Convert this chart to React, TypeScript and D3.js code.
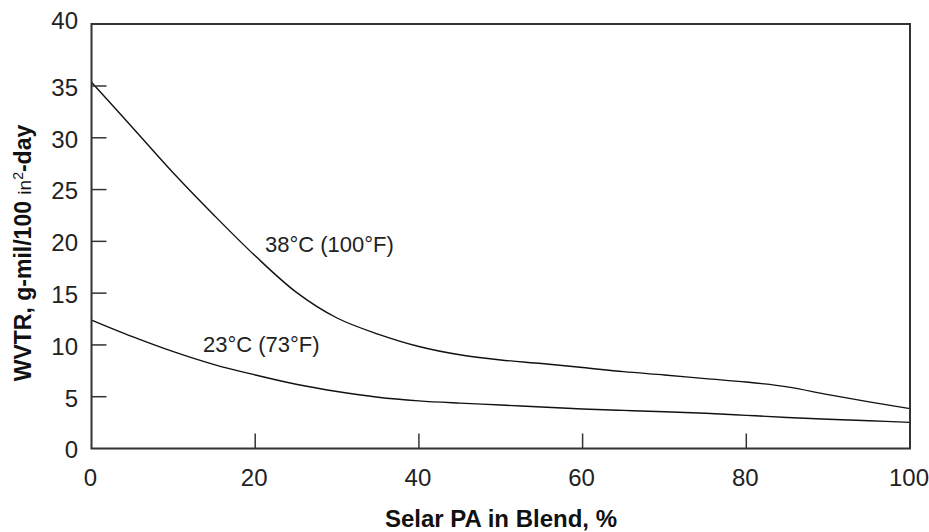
import React from "react";
import * as d3 from "d3";

const xTicks = [0, 20, 40, 60, 80, 100];
const yTicks = [0, 5, 10, 15, 20, 25, 30, 35, 40];

const blendPct = [0, 5, 10, 15, 20, 25, 30, 35, 40, 45, 50, 55, 60, 65, 70, 75, 80, 85, 90, 95, 100];
const wvtr38 = [35.3, 31.0, 26.6, 22.5, 18.6, 15.1, 12.6, 11.05, 9.85, 9.05, 8.55, 8.2, 7.82, 7.42, 7.1, 6.75, 6.42, 5.95, 5.2, 4.5, 3.85];
const wvtr23 = [12.4, 10.8, 9.35, 8.1, 7.1, 6.2, 5.5, 4.95, 4.6, 4.38, 4.2, 4.0, 3.82, 3.68, 3.55, 3.4, 3.2, 3.0, 2.82, 2.68, 2.52];

const label38 = "38°C (100°F)";
const label23 = "23°C (73°F)";
const xTitle = "Selar PA in Blend, %";

export default function App() {
  const W = 929, H = 532;
  const x = d3.scaleLinear().domain([0, 100]).range([91.5, 910]);
  const y = d3.scaleLinear().domain([0, 35, 40]).range([448.5, 86, 24]);
  const line = d3
    .line<number>()
    .x((_, i) => x(blendPct[i]))
    .y((d) => y(d))
    .curve(d3.curveCatmullRom.alpha(0.5));

  const font = "'Liberation Sans', Arial, sans-serif";
  const frameColor = "#333";

  return (
    <svg
      width={W}
      height={H}
      style={{ position: "absolute", left: 0, top: 0, background: "#fff" }}
      fontFamily={font}
    >
      <rect x={0} y={0} width={W} height={H} fill="#fff" />
      {/* curves */}
      <path d={line(wvtr38) || ""} fill="none" stroke="#111" strokeWidth={1.4} />
      <path d={line(wvtr23) || ""} fill="none" stroke="#111" strokeWidth={1.4} />

      {/* y ticks */}
      {yTicks.filter((t) => t > 0 && t < 40).map((t) => (
        <line key={"yt" + t} x1={x(0)} x2={x(0) + 15} y1={y(t)} y2={y(t)} stroke={frameColor} strokeWidth={1.5} />
      ))}
      {yTicks.map((t) => (
        <text
          key={"yl" + t}
          x={78}
          y={t === 40 ? y(t) - 1 : y(t) + 3.5}
          textAnchor="end"
          dominantBaseline="middle"
          fontSize={24}
          fill="#222"
        >
          {t}
        </text>
      ))}

      {/* x ticks */}
      {xTicks.filter((t) => t > 0 && t < 100).map((t) => (
        <line key={"xt" + t} x1={x(t)} x2={x(t)} y1={y(0)} y2={y(0) - 15} stroke={frameColor} strokeWidth={1.5} />
      ))}
      {xTicks.map((t) => (
        <text key={"xl" + t} x={x(t) - 1} y={486} textAnchor="middle" fontSize={24} fill="#222">
          {t}
        </text>
      ))}

      {/* frame */}
      <rect
        x={x(0)}
        y={y(40)}
        width={x(100) - x(0)}
        height={y(0) - y(40)}
        fill="none"
        stroke={frameColor}
        strokeWidth={2}
      />

      {/* annotations */}
      <text x={265} y={252} fontSize={22} fill="#222">{label38}</text>
      <text x={203} y={351.5} fontSize={22} fill="#222">{label23}</text>

      {/* axis titles */}
      <text x={501} y={527} textAnchor="middle" fontSize={24} fontWeight="bold" fill="#111">
        {xTitle}
      </text>
      <text
        transform={`translate(31, 253) rotate(-90)`}
        textAnchor="middle"
        fontSize={23}
        fontWeight="bold"
        fill="#111"
      >
        WVTR, g-mil/100{" "}
        <tspan fontWeight="normal" fontSize={19}>in</tspan>
        <tspan fontWeight="normal" fontSize={14} dy={-8}>2</tspan>
        <tspan dy={8}>-day</tspan>
      </text>
    </svg>
  );
}
